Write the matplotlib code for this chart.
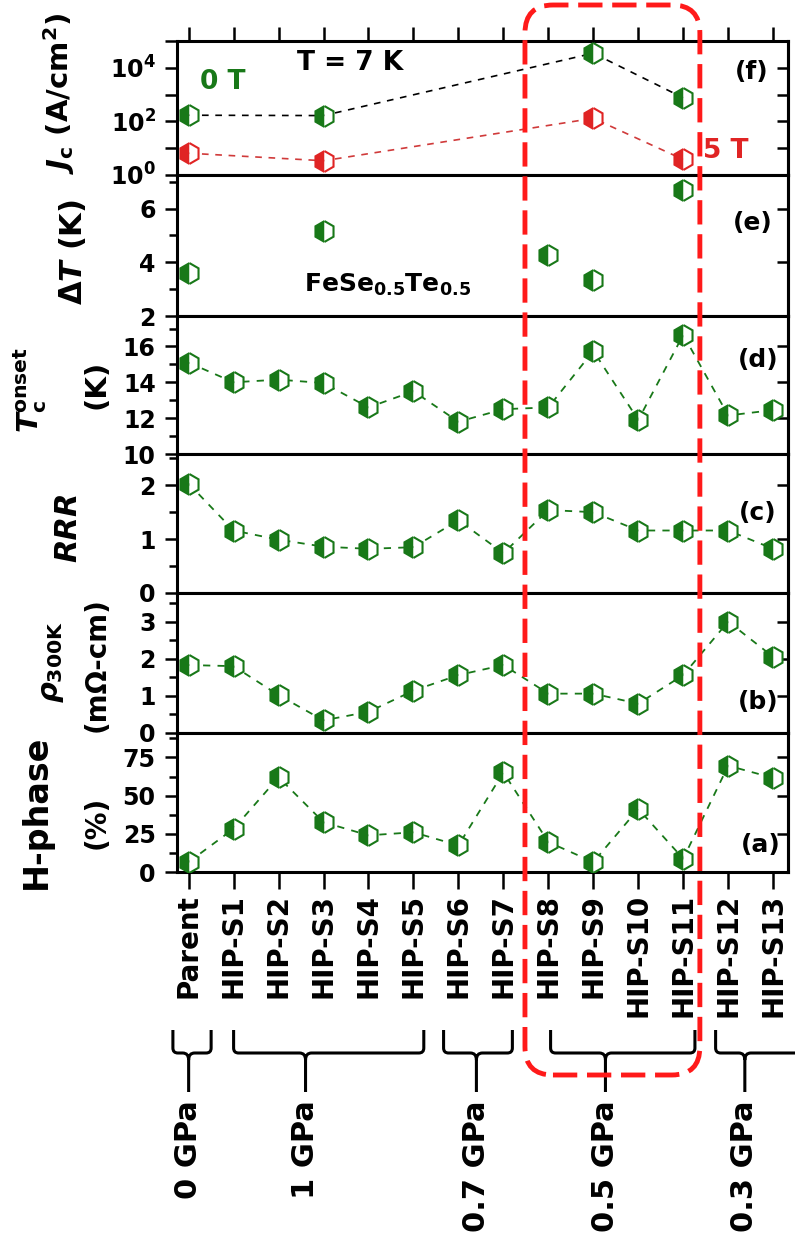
import numpy as np
import matplotlib
matplotlib.use("Agg")
import matplotlib.pyplot as plt
from matplotlib.markers import MarkerStyle
from matplotlib.patches import FancyBboxPatch, PathPatch
from matplotlib.path import Path
from matplotlib.transforms import IdentityTransform
from matplotlib.ticker import FixedLocator, FixedFormatter, MultipleLocator, LogLocator, NullFormatter

plt.rcParams["font.family"] = "DejaVu Sans"
plt.rcParams["font.weight"] = "bold"

# ---- data ----
samples = ["Parent", "HIP-S1", "HIP-S2", "HIP-S3", "HIP-S4", "HIP-S5", "HIP-S6",
           "HIP-S7", "HIP-S8", "HIP-S9", "HIP-S10", "HIP-S11", "HIP-S12", "HIP-S13"]
hphase = [6.5, 28.3, 62, 32.6, 24, 26, 17.4, 65.2, 19.6, 6.5, 41.3, 8.7, 69.6, 61.6]
rho300 = [1.83, 1.80, 1.02, 0.34, 0.57, 1.14, 1.56, 1.83, 1.06, 1.06, 0.79, 1.56, 3.0, 2.05]
rrr = [2.03, 1.16, 0.99, 0.86, 0.82, 0.85, 1.35, 0.74, 1.54, 1.50, 1.16, 1.16, 1.16, 0.82]
tc_onset = [15.1, 14.0, 14.15, 13.96, 12.6, 13.5, 11.8, 12.5, 12.6, 15.75, 11.9, 16.65, 12.15, 12.45]
dT_idx = [0, 3, 8, 9, 11]
dT = [3.6, 5.15, 4.27, 3.34, 6.68]
jc_idx = [0, 3, 9, 11]
jc_0T = [170, 165, 3.5e4, 760]
jc_5T = [6.5, 3.4, 130, 3.8]
groups = ["0 GPa", "1 GPa", "0.7 GPa", "0.5 GPa", "0.3 GPa"]

GREEN = "#187818"; RED = "#e02424"
W, H = 795, 1239
L, R = 176.5, 788
edges = [41, 175, 316, 454, 593, 733, 872]
x = np.arange(len(samples))

fig = plt.figure(figsize=(W/100, H/100), dpi=100)
axes = []
for i in range(6):
    top, bot = edges[i], edges[i+1]
    ax = fig.add_axes([L/W, 1-bot/H, (R-L)/W, (bot-top)/H])
    ax.set_xlim(-0.27, 13.33)
    ax.set_xticks(x)
    ax.tick_params(axis="x", direction="out", length=10, width=1.8, labelbottom=False)
    ax.tick_params(axis="y", which="both", direction="out", width=1.8, labelsize=17, pad=6)
    ax.tick_params(axis="y", which="major", length=9)
    ax.tick_params(axis="y", which="minor", length=6)
    for sp in ax.spines.values():
        sp.set_linewidth(2.2)
    axes.append(ax)
axf, axe, axd, axc, axb, axa = axes

def hexm(color):
    return dict(marker=MarkerStyle("h", fillstyle="left"), ms=15, mfc=color, mfcalt="white",
                mec=color, mew=1.5, ls="none", zorder=3)

# (f) Jc
axf.plot(jc_idx, jc_0T, ls=(0, (4, 4)), color="k", lw=1.2)
axf.plot(jc_idx, jc_5T, ls=(0, (4, 4)), color="#d03a3a", lw=1.2)
axf.plot(jc_idx, jc_0T, **hexm(GREEN))
axf.plot(jc_idx, jc_5T, **hexm(RED))
axf.set_yscale("log"); axf.set_ylim(1, 1e5)
axf.yaxis.set_major_locator(FixedLocator([1, 10, 100, 1e3, 1e4, 1e5]))
axf.yaxis.set_major_formatter(FixedFormatter([r"$\mathbf{10^{0}}$", "", r"$\mathbf{10^{2}}$", "",
                                              r"$\mathbf{10^{4}}$", ""]))
axf.yaxis.set_minor_locator(LogLocator(subs=np.arange(2, 10)))
axf.yaxis.set_minor_formatter(NullFormatter())
axf.tick_params(axis="y", which="minor", length=5)
axf.tick_params(axis="x", top=True)

# (e) delta T
axe.plot(dT_idx, dT, **hexm(GREEN))
axe.set_ylim(2, 7.25); axe.set_yticks([2, 4, 6]); axe.yaxis.set_minor_locator(MultipleLocator(1))

# (d)-(a) connected series
for ax, vals, lim, maj, mn in [(axd, tc_onset, (10, 17.7), [10, 12, 14, 16], 1),
                               (axc, rrr, (0, 2.58), [0, 1, 2], 0.5),
                               (axb, rho300, (0, 3.77), [0, 1, 2, 3], 0.5),
                               (axa, hphase, (0, 91), [0, 25, 50, 75], 12.5)]:
    ax.plot(x, vals, ls=(0, (4, 4)), color=GREEN, lw=1.3)
    ax.plot(x, vals, **hexm(GREEN))
    ax.set_ylim(*lim); ax.set_yticks(maj); ax.yaxis.set_minor_locator(MultipleLocator(mn))

# inward ticks on the right spine
for ax in axes:
    sec = ax.secondary_yaxis("right")
    sec.yaxis.set_major_locator(FixedLocator(ax.get_yticks()))
    sec.yaxis.set_major_formatter(NullFormatter())
    sec.yaxis.set_minor_locator(FixedLocator([]))
    sec.tick_params(axis="y", which="both", direction="in", length=8, width=1.8, labelright=False)
    sec.spines["right"].set_linewidth(2.2)

axa.set_xticklabels(samples, rotation=90, fontsize=20, fontweight="bold")
axa.tick_params(axis="x", labelbottom=True, pad=4, length=12)

def ft(px, py, s, **kw):
    fig.text(px/W, 1-py/H, s, **kw)

# y labels
ft(59, 93, r"$\mathbfit{J}_{\mathbf{c}}$ (A/cm$^{\mathbf{2}}$)", rotation=90, ha="center", va="center", fontsize=21)
ft(72, 252, r"$\Delta\mathbfit{T}$ (K)", rotation=90, ha="center", va="center", fontsize=22)
ft(30, 390, r"$\mathbfit{T}_{\mathbf{c}}^{\mathbf{onset}}$", rotation=90, ha="center", va="center", fontsize=21)
ft(96, 384, "(K)", rotation=90, ha="center", va="center", fontsize=21)
ft(68, 527, "RRR", rotation=90, ha="center", va="center", fontsize=22, fontstyle="italic")
ft(52, 662, r"$\rho_{\mathrm{300K}}$", rotation=90, ha="center", va="center", fontsize=21)
ft(97, 665, "(m\u03A9-cm)", rotation=90, ha="center", va="center", fontsize=20)
ft(36, 812, "H-phase", rotation=90, ha="center", va="center", fontsize=24)
ft(97, 822, "(%)", rotation=90, ha="center", va="center", fontsize=20)

# panel tags and annotations
for lab, (px, py) in zip(["(f)", "(e)", "(d)", "(c)", "(b)", "(a)"],
                         [(752, 72), (753, 223), (758, 360), (758, 513), (758, 702), (761, 845)]):
    ft(px, py, lab, ha="center", va="center", fontsize=18)
ft(223, 82, "0 T", color=GREEN, ha="center", va="center", fontsize=19)
ft(350, 63, "T = 7 K", ha="center", va="center", fontsize=19)
ft(726, 151, "5 T", color=RED, ha="center", va="center", fontsize=19)
ft(304, 292, r"FeSe$_{\mathbf{0.5}}$Te$_{\mathbf{0.5}}$", ha="left", va="baseline", fontsize=18)

# pressure brackets (x in data units of the sample axis)
brk_lo = [-0.35, 1.0, 5.67, 8.05, 11.72]
brk_hi = [0.5, 5.23, 7.2, 11.26, 14.0]
brk_mid = [0, 2.6, 6.4, 9.27, 12.37]
tr = axa.transData
yt, yh, ys, yb = H-1030, H-1053, H-1060, H-1092
for lo, hi, mid, name in zip(brk_lo, brk_hi, brk_mid, groups):
    xl = tr.transform((lo, 0))[0]; xh = tr.transform((hi, 0))[0]; xm = tr.transform((mid, 0))[0]
    verts = [(xl, yt), (xl, yh+5), (xl, yh), (xl+5, yh), (xm-6, yh), (xm, yh), (xm, ys), (xm, yb),
             (xm, ys), (xm, yh), (xm+6, yh), (xh-5, yh), (xh, yh), (xh, yh+5), (xh, yt)]
    codes = [Path.MOVETO, Path.LINETO, Path.CURVE3, Path.CURVE3, Path.LINETO, Path.CURVE3, Path.CURVE3,
             Path.LINETO, Path.MOVETO, Path.CURVE3, Path.CURVE3, Path.LINETO, Path.CURVE3, Path.CURVE3, Path.LINETO]
    fig.add_artist(PathPatch(Path(verts, codes), fill=False, lw=2.2, ec="k", transform=IdentityTransform()))
    fig.text(xm/W, 1-1100/H, name, rotation=90, ha="center", va="top", fontsize=22)

# red dashed highlight box around the 0.5 GPa samples
bx0 = tr.transform((7.48, 0))[0]; bx1 = tr.transform((11.37, 0))[0]
box = FancyBboxPatch((bx0, H-1075), bx1-bx0, 1070, boxstyle="round,pad=0,rounding_size=28",
                     fill=False, ec="#ff1a1a", lw=3.5, ls=(0, (5, 2)), transform=IdentityTransform(), zorder=10)
fig.add_artist(box)

fig.savefig("out.png", dpi=100)
